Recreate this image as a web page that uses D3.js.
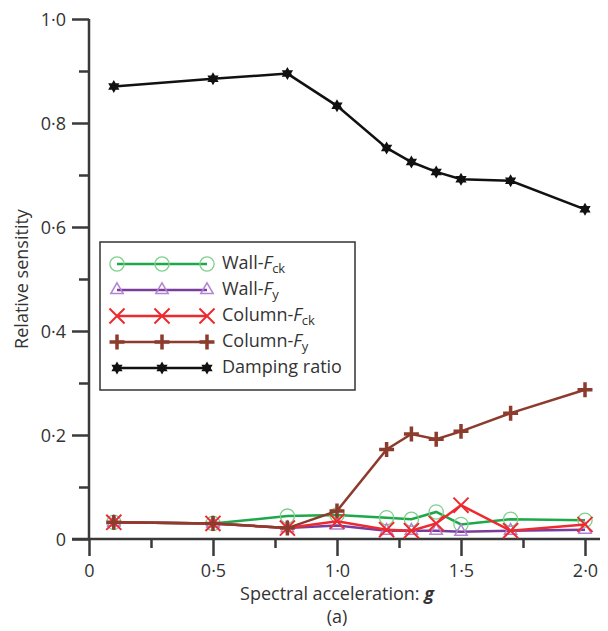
<!DOCTYPE html>
<html>
<head>
<meta charset="utf-8">
<script src="https://cdn.jsdelivr.net/npm/d3@7"></script>
<style>
body {margin:0;background:#fff;}
svg text {font-family:"Open Sans","Noto Sans",sans-serif;fill:#333;}
</style>
</head>
<body>
<svg id="chart" width="608" height="631"></svg>
<script>
// spectral acceleration (g)
var accel = [0.1, 0.5, 0.8, 1.0, 1.2, 1.3, 1.4, 1.5, 1.7, 2.0];
var wallFck   = [0.032, 0.030, 0.044, 0.046, 0.041, 0.038, 0.052, 0.028, 0.038, 0.036];
var wallFy    = [0.032, 0.030, 0.021, 0.026, 0.016, 0.016, 0.016, 0.014, 0.016, 0.018];
var columnFck = [0.032, 0.030, 0.021, 0.034, 0.018, 0.016, 0.030, 0.065, 0.016, 0.028];
var columnFy  = [0.032, 0.030, 0.021, 0.054, 0.172, 0.202, 0.192, 0.207, 0.242, 0.287];
var damping   = [0.870, 0.885, 0.895, 0.833, 0.752, 0.725, 0.706, 0.692, 0.689, 0.634];

var xTicks = [0, 0.5, 1.0, 1.5, 2.0];
var yTicks = [0, 0.2, 0.4, 0.6, 0.8, 1.0];

// six pointed star
var hexagram = {
  draw: function(ctx, size) {
    var r = Math.sqrt(size) * 0.62;
    [-90, 90].forEach(function(start) {
      for (var i = 0; i < 3; i++) {
        var a = (start + i * 120) * Math.PI / 180;
        if (i === 0) ctx.moveTo(r * Math.cos(a), r * Math.sin(a));
        else ctx.lineTo(r * Math.cos(a), r * Math.sin(a));
      }
      ctx.closePath();
    });
  }
};

var series = [
  {name: "Wall-", sub: "ck", values: wallFck, line: "#1ea84a", mark: "#7fd08c", sym: d3.symbolCircle, size: 160, fill: "none", sw: 1.3},
  {name: "Wall-", sub: "y", values: wallFy, line: "#7b3d9c", mark: "#b283d2", sym: d3.symbolTriangle2, size: 110, fill: "none", sw: 1.5},
  {name: "Column-", sub: "ck", values: columnFck, line: "#ee2a2f", mark: "#ee2a2f", sym: d3.symbolTimes, size: 150, fill: "none", sw: 2},
  {name: "Column-", sub: "y", values: columnFy, line: "#8c3b2d", mark: "#8c3b2d", sym: d3.symbolPlus, size: 75, fill: "none", sw: 3.5},
  {name: "Damping ratio", sub: null, values: damping, line: "#111", mark: "#111", sym: hexagram, size: 110, fill: "#111", sw: 0}
];

var svg = d3.select("#chart");
var x = d3.scaleLinear().domain([0, 2]).range([89, 585]);
var y = d3.scaleLinear().domain([0, 1]).range([539, 19]);
var axisColor = "#3a3a3a";
var fmt = function(d) { return d === 0 ? "0" : d.toFixed(1).replace(".", "\u00b7"); };

// minor ticks
var gx0 = svg.append("g").attr("transform", "translate(0," + y(0) + ")")
  .call(d3.axisBottom(x).tickValues([0.25, 0.75, 1.25, 1.75]).tickSize(9).tickFormat(""));
var gy0 = svg.append("g").attr("transform", "translate(" + x(0) + ",0)")
  .call(d3.axisLeft(y).tickValues([0.1, 0.3, 0.5, 0.7, 0.9]).tickSize(10).tickFormat(""));

// major ticks
var gx = svg.append("g").attr("transform", "translate(0," + y(0) + ")")
  .call(d3.axisBottom(x).tickValues(xTicks).tickSize(17).tickFormat(fmt));
var gy = svg.append("g").attr("transform", "translate(" + x(0) + ",0)")
  .call(d3.axisLeft(y).tickValues(yTicks).tickSize(17).tickFormat(fmt));

[gx0, gy0, gx, gy].forEach(function(g) {
  g.select(".domain").remove();
  g.selectAll(".tick line").attr("stroke", axisColor).attr("stroke-width", 2.5);
  g.selectAll("text").style("font-size", "18px").attr("fill", "#333");
});
gx.selectAll(".tick text").attr("y", 38).attr("dy", 0);
gy.selectAll(".tick text").attr("x", -23).attr("dy", "0.35em");

svg.append("line").attr("x1", x(0) - 17).attr("x2", x(2) + 15)
  .attr("y1", y(0)).attr("y2", y(0)).attr("stroke", axisColor).attr("stroke-width", 2.5);
svg.append("line").attr("x1", x(0)).attr("x2", x(0))
  .attr("y1", y(1)).attr("y2", y(0)).attr("stroke", axisColor).attr("stroke-width", 2.5);

// axis titles
svg.append("text").attr("transform", "translate(28," + y(0.5) + ") rotate(-90)")
  .attr("text-anchor", "middle").style("font-size", "18px").text("Relative sensitity");
var xt = svg.append("text").attr("x", x(1)).attr("y", 600)
  .attr("text-anchor", "middle").style("font-size", "18px");
xt.append("tspan").text("Spectral acceleration: ");
xt.append("tspan").style("font-weight", "bold").style("font-style", "italic").text("g");
svg.append("text").attr("x", x(1)).attr("y", 623)
  .attr("text-anchor", "middle").style("font-size", "18px").text("(a)");

// lines and markers
var line = d3.line().x(function(d, i) { return x(accel[i]); }).y(function(d) { return y(d); });
series.forEach(function(s) {
  svg.append("path").datum(s.values).attr("d", line)
    .attr("fill", "none").attr("stroke", s.line).attr("stroke-width", 2.5);
  svg.append("g").selectAll("path").data(s.values).enter().append("path")
    .attr("transform", function(d, i) { return "translate(" + x(accel[i]) + "," + y(d) + ")"; })
    .attr("d", d3.symbol().type(s.sym).size(s.size))
    .attr("fill", s.fill).attr("stroke", s.sw ? s.mark : "none").attr("stroke-width", s.sw);
});

// legend
var lg = svg.append("g");
lg.append("rect").attr("x", 100).attr("y", 242).attr("width", 255).attr("height", 148)
  .attr("fill", "#fff").attr("stroke", "#333").attr("stroke-width", 1.5);
series.forEach(function(s, k) {
  var ry = 264 + k * 26;
  var pts = [117, 162, 207];
  lg.append("line").attr("x1", pts[0]).attr("x2", pts[2]).attr("y1", ry).attr("y2", ry)
    .attr("stroke", s.line).attr("stroke-width", 2.5);
  pts.forEach(function(px) {
    lg.append("path").attr("transform", "translate(" + px + "," + ry + ")")
      .attr("d", d3.symbol().type(s.sym).size(s.size))
      .attr("fill", s.fill).attr("stroke", s.sw ? s.mark : "none").attr("stroke-width", s.sw);
  });
  var t = lg.append("text").attr("x", 222).attr("y", ry + 5).style("font-size", "18px");
  t.append("tspan").text(s.name);
  if (s.sub) {
    t.append("tspan").style("font-style", "italic").text("F");
    t.append("tspan").attr("dy", 4).style("font-size", "13px").text(s.sub);
  }
});
</script>
</body>
</html>
